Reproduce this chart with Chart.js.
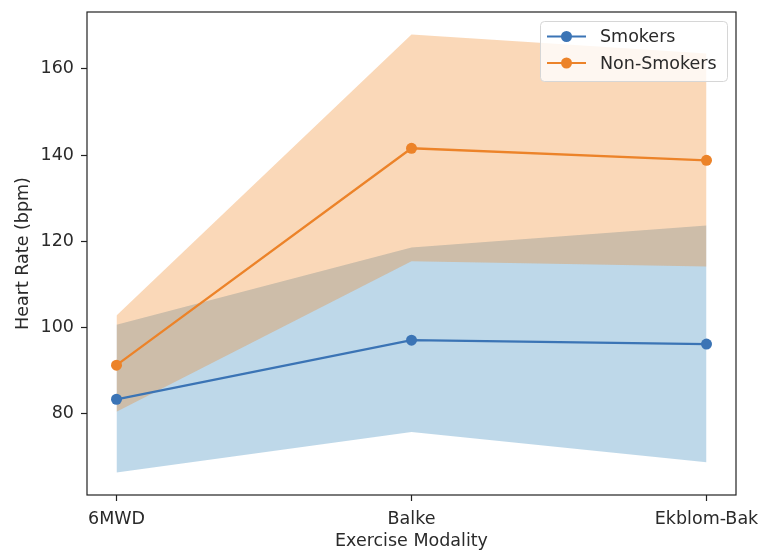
<!DOCTYPE html>
<html>
<head>
<meta charset="utf-8">
<script src="https://cdn.jsdelivr.net/npm/chart.js@4"></script>
<style>
html,body{margin:0;padding:0;background:#fff;}
#wrap{position:relative;width:761px;height:552px;}
</style>
</head>
<body>
<div id="wrap"><canvas id="c" width="761" height="552"></canvas></div>
<script>
const categories = ["6MWD", "Balke", "Ekblom-Bak"];
const smokersMean = [83.4, 97.1, 96.2];
const smokersLower = [66.4, 75.8, 68.8];
const smokersUpper = [100.7, 118.6, 123.7];
const nonSmokersMean = [91.3, 141.6, 138.8];
const nonSmokersLower = [80.5, 115.4, 114.2];
const nonSmokersUpper = [102.8, 168.0, 163.6];
const yTicks = [80, 100, 120, 140, 160];

const BLUE = '#3b74b5';
const ORANGE = '#ec8329';
const FONT = 'DejaVu Sans';
const FS = 17.5;
const TXT = '#2a2a2a';

const xy = arr => arr.map((v, i) => ({x: i, y: v}));

const legendPlugin = {
  id: 'mplLegend',
  afterDraw(chart) {
    const ctx = chart.ctx;
    ctx.save();
    const x0 = 540.5, y0 = 21.5, w = 187, h = 60, r = 4;
    ctx.beginPath();
    ctx.moveTo(x0 + r, y0);
    ctx.arcTo(x0 + w, y0, x0 + w, y0 + h, r);
    ctx.arcTo(x0 + w, y0 + h, x0, y0 + h, r);
    ctx.arcTo(x0, y0 + h, x0, y0, r);
    ctx.arcTo(x0, y0, x0 + w, y0, r);
    ctx.closePath();
    ctx.fillStyle = 'rgba(255,255,255,0.8)';
    ctx.fill();
    ctx.strokeStyle = '#d6d6d6';
    ctx.lineWidth = 1;
    ctx.stroke();
    const items = [["Smokers", BLUE, 36.5], ["Non-Smokers", ORANGE, 63]];
    ctx.font = FS + 'px "' + FONT + '"';
    ctx.textBaseline = 'middle';
    ctx.textAlign = 'left';
    for (const [label, col, y] of items) {
      ctx.strokeStyle = col;
      ctx.lineWidth = 2.2;
      ctx.beginPath();
      ctx.moveTo(547, y);
      ctx.lineTo(586, y);
      ctx.stroke();
      ctx.fillStyle = col;
      ctx.beginPath();
      ctx.arc(566.5, y, 5.5, 0, Math.PI * 2);
      ctx.fill();
      ctx.fillStyle = TXT;
      ctx.fillText(label, 600, y + 1);
    }
    ctx.restore();
  }
};

const frame = {
  id: 'frame',
  afterDatasetsDraw(chart) {
    const {ctx, chartArea: a} = chart;
    ctx.save();
    ctx.strokeStyle = '#222';
    ctx.lineWidth = 1.2;
    ctx.strokeRect(a.left, a.top, a.right - a.left, a.bottom - a.top);
    ctx.restore();
  }
};

new Chart(document.getElementById('c'), {
  type: 'line',
  data: {
    datasets: [
      {label: 'sl', data: xy(smokersLower), borderWidth: 0, pointRadius: 0, fill: false, order: 3, borderColor: 'rgba(0,0,0,0)'},
      {label: 'su', data: xy(smokersUpper), borderWidth: 0, pointRadius: 0, fill: 0, order: 3, borderColor: 'rgba(0,0,0,0)', backgroundColor: 'rgba(31,119,180,0.29)'},
      {label: 'nl', data: xy(nonSmokersLower), borderWidth: 0, pointRadius: 0, fill: false, order: 2, borderColor: 'rgba(0,0,0,0)'},
      {label: 'nu', data: xy(nonSmokersUpper), borderWidth: 0, pointRadius: 0, fill: 2, order: 2, borderColor: 'rgba(0,0,0,0)', backgroundColor: 'rgba(240,125,20,0.3)'},
      {label: 'Smokers', data: xy(smokersMean), borderColor: BLUE, backgroundColor: BLUE, borderWidth: 2.3, pointRadius: 5.5, pointHoverRadius: 5.5, pointBorderWidth: 0, fill: false, order: 0},
      {label: 'Non-Smokers', data: xy(nonSmokersMean), borderColor: ORANGE, backgroundColor: ORANGE, borderWidth: 2.3, pointRadius: 5.5, pointHoverRadius: 5.5, pointBorderWidth: 0, fill: false, order: 0}
    ]
  },
  options: {
    responsive: false,
    animation: false,
    events: [],
    layout: {padding: {left: 0, right: 25, top: 12, bottom: 0}},
    plugins: {legend: {display: false}, tooltip: {enabled: false}},
    scales: {
      x: {
        type: 'linear', min: -0.1, max: 2.1,
        afterBuildTicks: s => { s.ticks = categories.map((c, i) => ({value: i})); },
        afterFit: s => { s.height = 57; s.paddingLeft = 0; s.paddingRight = 0; },
        ticks: {callback: v => categories[v], color: TXT, font: {family: FONT, size: FS}, padding: 8, maxRotation: 0, autoSkip: false},
        grid: {display: true, drawOnChartArea: false, drawTicks: true, tickLength: 6, tickColor: '#222', tickWidth: 1.2},
        border: {display: false},
        title: {display: true, text: 'Exercise Modality', color: TXT, font: {family: FONT, size: FS}, padding: {top: 0, bottom: 0}}
      },
      y: {
        type: 'linear', min: 61.2, max: 173.2,
        afterBuildTicks: s => { s.ticks = yTicks.map(v => ({value: v})); },
        afterFit: s => { s.width = 87; s.paddingTop = 0; s.paddingBottom = 0; },
        ticks: {color: TXT, font: {family: FONT, size: FS}, padding: 7},
        grid: {display: true, drawOnChartArea: false, drawTicks: true, tickLength: 6, tickColor: '#222', tickWidth: 1.2},
        border: {display: false},
        title: {display: true, text: 'Heart Rate (bpm)', color: TXT, font: {family: FONT, size: FS}, padding: {top: 13, bottom: 0}}
      }
    }
  },
  plugins: [frame, legendPlugin]
});
</script>
</body>
</html>
